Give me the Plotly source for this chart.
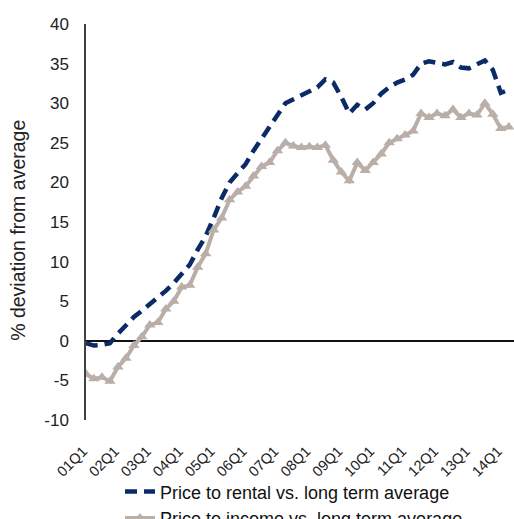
import plotly.graph_objects as go

quarters = [f"{y:02d}Q{q}" for y in range(1, 15) for q in range(1, 5)][:54]
tick_labels = ["01Q1", "02Q1", "03Q1", "04Q1", "05Q1", "06Q1", "07Q1",
               "08Q1", "09Q1", "10Q1", "11Q1", "12Q1", "13Q1", "14Q1"]
y_ticks = [-10, -5, 0, 5, 10, 15, 20, 25, 30, 35, 40]
y_tick_labels = ["-10", "-5", "0", "5", "10", "15", "20", "25", "30", "35", "40"]

price_to_rental = [
    -0.3, -0.6, -0.5, -0.3, 0.9, 2.0, 3.0, 3.8, 4.6, 5.5, 6.3, 7.3,
    8.4, 9.6, 11.5, 13.2, 15.5, 18.0, 20.0, 21.2, 22.3, 24.0, 25.5, 27.0,
    28.5, 30.0, 30.5, 31.0, 31.5, 32.0, 33.0, 32.6, 30.8, 28.7, 29.8, 29.2,
    30.0, 31.2, 32.0, 32.6, 33.0, 33.6, 35.0, 35.3, 35.1, 34.9, 35.2, 34.5,
    34.4, 34.9, 35.4, 34.2, 31.3, 31.7,
]
price_to_income = [
    -4.2, -4.8, -4.6, -5.1, -3.3, -2.2, -0.6, 0.5, 2.0, 2.3, 4.0, 5.0,
    6.8, 7.0, 9.3, 11.0, 14.0, 15.5, 17.8, 18.8, 19.5, 20.8, 22.0, 22.5,
    24.0, 25.0, 24.6, 24.4, 24.5, 24.4, 24.7, 22.8, 21.3, 20.2, 22.5, 21.5,
    22.5, 23.6, 25.0, 25.5, 26.0, 26.5, 28.7, 28.2, 28.7, 28.4, 29.2, 28.2,
    28.7, 28.5, 30.0, 28.6, 26.8, 27.0,
]
y_title = "% deviation from average"

idx = list(range(len(quarters)))
tick_pos = [quarters.index(t) for t in tick_labels]

font = "Liberation Sans, Arial, sans-serif"

fig = go.Figure()
fig.add_trace(go.Scatter(
    x=idx, y=price_to_rental, mode="lines",
    name="Price to rental vs. long term average",
    line=dict(color="#0B2A66", width=4.5, dash="12px,7px"),
    hovertext=quarters,
))
fig.add_trace(go.Scatter(
    x=idx, y=price_to_income, mode="lines+markers",
    name="Price to income vs. long term average",
    line=dict(color="#BAAEA8", width=4),
    marker=dict(symbol="triangle-up", size=10, color="#BAAEA8"),
    hovertext=quarters,
))

fig.update_layout(
    width=514, height=519,
    margin=dict(l=86, r=0, t=24, b=99, autoexpand=False),
    paper_bgcolor="white", plot_bgcolor="white",
    font=dict(family=font, size=17, color="#222222"),
    showlegend=True,
    legend=dict(
        orientation="v", xref="container", yref="container",
        x=0.2335, xanchor="left", y=0.088, yanchor="top",
        font=dict(size=18, color="#111111"),
        tracegroupgap=0, itemwidth=30,
        bgcolor="rgba(0,0,0,0)",
    ),
    annotations=[dict(
        text=y_title, textangle=-90, showarrow=False,
        xref="paper", yref="paper", x=-0.159, y=0.48,
        xanchor="center", yanchor="middle",
        font=dict(size=19.5, color="#222222"),
    )],
)
fig.update_xaxes(
    range=[0, 53.65], tickmode="array", tickvals=tick_pos, ticktext=tick_labels,
    tickangle=-45, showgrid=False, showline=False, zeroline=False,
    ticks="", tickfont=dict(size=14.5), automargin=False,
    ticklabelstandoff=19, ticklabelshift=-3,
)
fig.update_yaxes(
    range=[-10, 40], tickmode="array", tickvals=y_ticks, ticktext=y_tick_labels,
    showgrid=False,
    showline=True, linecolor="#404040", linewidth=1.5,
    zeroline=True, zerolinecolor="#111111", zerolinewidth=1.5,
    ticks="", ticklabelstandoff=12, automargin=False,
)

fig.write_html(
    "out.html",
    config={"displayModeBar": False},
    post_script="document.body.style.margin='0';document.body.style.overflow='hidden';",
)
